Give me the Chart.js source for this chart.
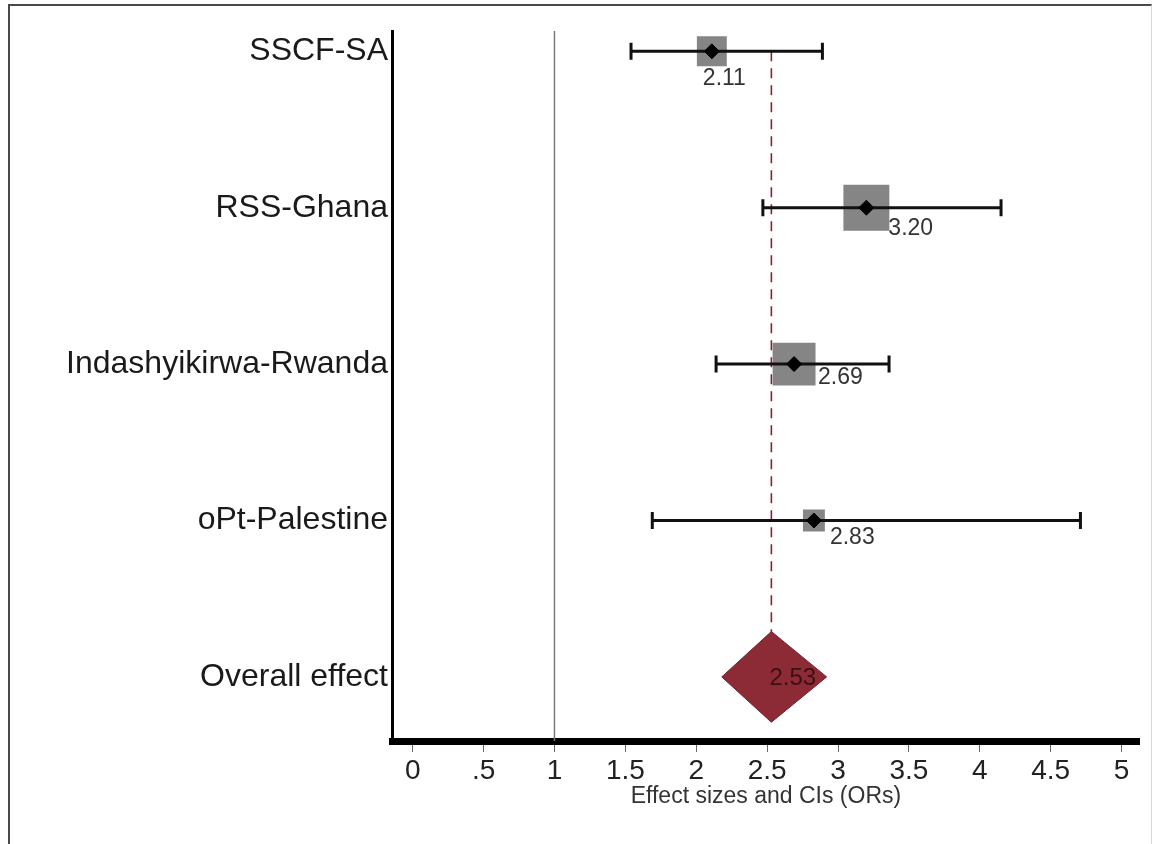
<!DOCTYPE html>
<html>
<head>
<meta charset="utf-8">
<title>Forest plot</title>
<script src="https://cdn.jsdelivr.net/npm/chart.js@4.4.1/dist/chart.umd.min.js"></script>
<style>
  html, body { margin: 0; padding: 0; background: #fff; }
  #wrap { position: relative; width: 1153px; height: 844px; overflow: hidden; }
  #frame {
    position: absolute; left: 8px; top: 4px; width: 1141px; height: 860px;
    border-left: 2px solid #4a4a4a; border-top: 2px solid #4a4a4a; border-right: 1px solid #d8d8d8;
    pointer-events: none;
  }
  canvas { position: absolute; left: 0; top: 0; }
</style>
</head>
<body>
<div id="wrap">
  <canvas id="forest" width="1161" height="844"></canvas>
  <div id="frame"></div>
</div>
<script>
// studies, top to bottom
const studies = ["SSCF-SA", "RSS-Ghana", "Indashyikirwa-Rwanda", "oPt-Palestine"];
const oddsRatios = [2.11, 3.20, 2.69, 2.83];
const ciLower = [1.54, 2.47, 2.14, 1.69];
const ciUpper = [2.89, 4.15, 3.36, 4.71];
const weights = [16.8, 39.6, 34.6, 9.0]; // % weight

const overallLabel = "Overall effect";
const overallOR = 2.53;
const overallLower = 2.18;
const overallUpper = 2.92;

const xTicks = [0, 0.5, 1, 1.5, 2, 2.5, 3, 3.5, 4, 4.5, 5];
const xTitle = "Effect sizes and CIs (ORs)";

const rowLabels = studies.concat([overallLabel]);
const overallRow = studies.length;

// drawing styles
const FONT = "'Liberation Sans', Arial, Helvetica, sans-serif";
const boxScale = 7.3;          // box side in px per sqrt(weight)
const diamondHalf = 0.29;      // half height of overall diamond, in rows
const labelDx = [-9, 22, 24, 16];
const labelDy = [27, 21, 14, 17];
const yMin = -0.13, yMax = 4.41;

const datasets = [];

// null line at OR = 1
datasets.push({
  data: [{ x: 1, y: yMin }, { x: 1, y: yMax }],
  borderColor: "#7a7a7a", borderWidth: 1.5, pointRadius: 0, order: 7
});

// dashed line at overall effect
datasets.push({
  data: [{ x: overallOR, y: 0 }, { x: overallOR, y: overallRow }],
  borderColor: "#8b1f2c", borderWidth: 1.6, borderDash: [10, 7], pointRadius: 0, order: 6
});

// weight boxes
datasets.push({
  data: oddsRatios.map((v, i) => ({ x: v, y: i })),
  showLine: false,
  pointStyle: "rect",
  pointRadius: weights.map(w => boxScale * Math.sqrt(w) / (2 * Math.SQRT1_2)),
  backgroundColor: "#858585", borderColor: "#858585", pointBorderWidth: 0,
  order: 5
});

// confidence intervals with end caps
studies.forEach((s, i) => {
  datasets.push({
    data: [{ x: ciLower[i], y: i }, { x: ciUpper[i], y: i }],
    borderColor: "#111", borderWidth: 3,
    pointStyle: "line", pointRotation: 90, pointRadius: 8.5,
    pointBorderColor: "#111", pointBorderWidth: 3,
    order: 4
  });
});

// point estimates
datasets.push({
  data: oddsRatios.map((v, i) => ({ x: v, y: i })),
  showLine: false,
  pointStyle: "rectRot", pointRadius: 7.5,
  backgroundColor: "#000", borderColor: "#000", pointBorderWidth: 1,
  order: 3
});

// overall diamond
datasets.push({
  data: [
    { x: overallLower, y: overallRow },
    { x: overallOR, y: overallRow - diamondHalf },
    { x: overallUpper, y: overallRow },
    { x: overallOR, y: overallRow + diamondHalf },
    { x: overallLower, y: overallRow }
  ],
  borderColor: "#74222c", borderWidth: 1, backgroundColor: "#8c2b36",
  fill: "shape", tension: 0, pointRadius: 0, order: 1
});

const valueLabels = {
  id: "valueLabels",
  afterDatasetsDraw(chart) {
    const ctx = chart.ctx;
    const xs = chart.scales.x, ys = chart.scales.y;
    ctx.save();
    ctx.font = "23px " + FONT;
    ctx.textAlign = "left";
    ctx.textBaseline = "middle";
    ctx.fillStyle = "#333";
    oddsRatios.forEach((v, i) => {
      ctx.fillText(v.toFixed(2), xs.getPixelForValue(v) + labelDx[i], ys.getPixelForValue(i) + labelDy[i]);
    });
    ctx.fillStyle = "#3b1015";
    ctx.font = "24px " + FONT;
    ctx.fillText(overallOR.toFixed(2), xs.getPixelForValue(overallOR) - 2, ys.getPixelForValue(overallRow) + 1);
    ctx.restore();
  }
};

new Chart(document.getElementById("forest"), {
  type: "line",
  data: { datasets: datasets },
  options: {
    responsive: false,
    animation: false,
    layout: { padding: { top: 31, right: 0, bottom: 0, left: 0 } },
    plugins: { legend: { display: false }, tooltip: { enabled: false } },
    elements: { line: { tension: 0 } },
    scales: {
      x: {
        type: "linear",
        min: -0.146, max: 5.129,
        afterBuildTicks: (scale) => { scale.ticks = xTicks.map(v => ({ value: v })); },
        afterFit: (scale) => { scale.height = 103; },
        border: { display: true, color: "#000", width: 7 },
        grid: { drawOnChartArea: false, drawTicks: true, tickLength: 11, tickColor: "#666", tickWidth: 1 },
        ticks: {
          autoSkip: false, maxRotation: 0, padding: 2,
          color: "#222", font: { family: FONT, size: 28 },
          callback: (v) => String(v).replace(/^0\./, ".")
        },
        title: {
          display: true, text: xTitle, color: "#333",
          font: { family: FONT, size: 23 }, padding: { top: 0, bottom: 34 }
        }
      },
      y: {
        type: "linear",
        reverse: true,
        min: yMin, max: yMax,
        afterBuildTicks: (scale) => { scale.ticks = rowLabels.map((_, i) => ({ value: i })); },
        afterFit: (scale) => { scale.width = 392; },
        border: { display: true, color: "#000", width: 3 },
        grid: { drawOnChartArea: false, drawTicks: false },
        ticks: {
          autoSkip: false, padding: 4,
          color: "#1a1a1a", font: { family: FONT, size: 32 },
          callback: (v) => rowLabels[v]
        }
      }
    }
  },
  plugins: [valueLabels]
});
</script>
</body>
</html>
